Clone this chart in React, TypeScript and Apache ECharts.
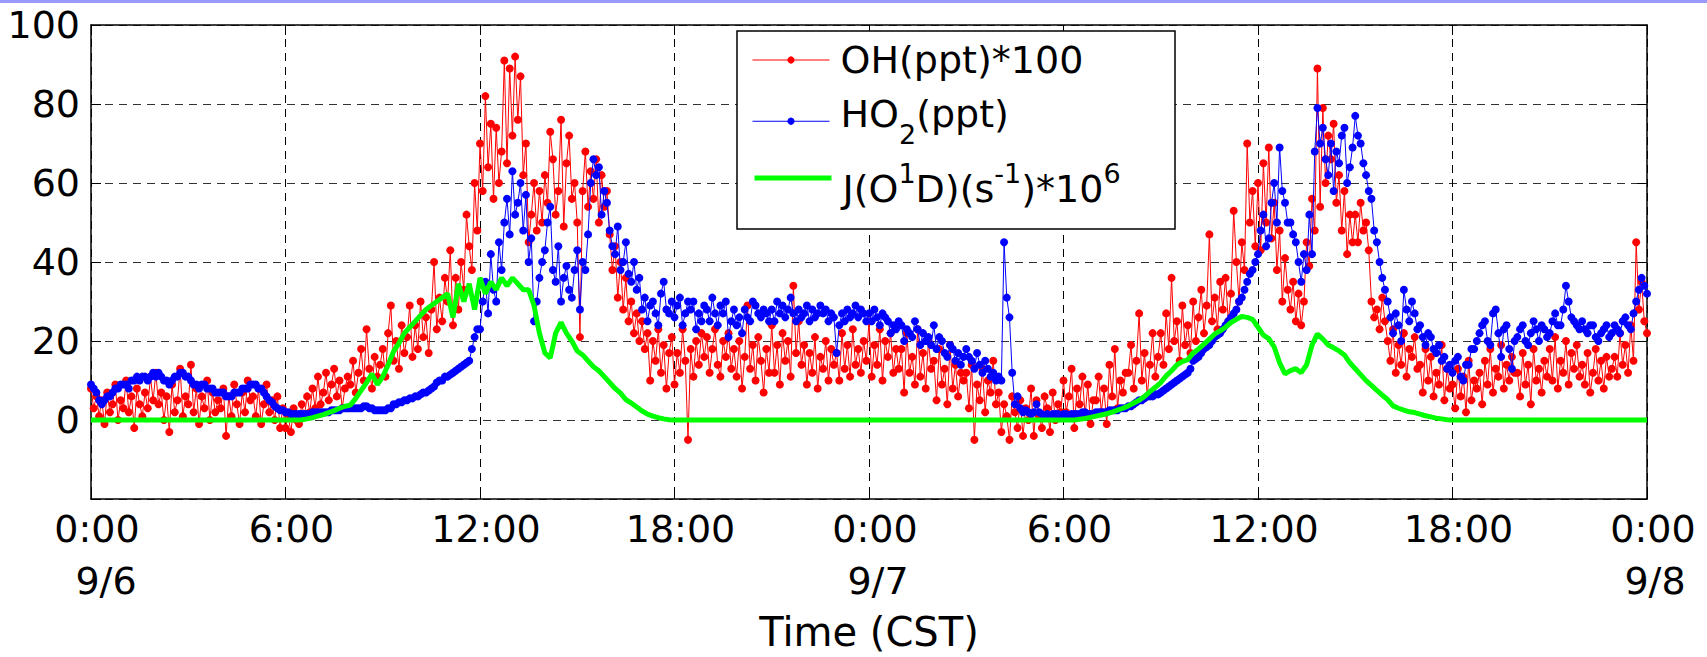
import React, { useEffect, useRef } from 'react';
import * as echarts from 'echarts';

// ---- data: OH and HO2 at 5-minute samples, J(O1D) at 10-minute samples, from 9/6 0:00 CST ----
const STEP_RAD_H = 1 / 12;
const STEP_J_H = 1 / 6;
const X_MIN = 0;
const X_MAX = 48;
const X_INTERVAL = 6;
const Y_MIN = -20;
const Y_MAX = 100;
const Y_INTERVAL = 20;
const DATE_LABELS = ['9/6', '9/7', '9/8'];
const LEGEND_OH = 'OH(ppt)*100';

// OH(ppt)*100, one row per hour
const OH = [
  8, 3, 6, 1, 5, -1, 7, 2, 4, 9, 0, 5,
  3, 10, 2, 6, -2, 8, 4, 1, 7, 3, 11, 5,
  12, 4, 7, 0, 6, -3, 9, 2, 5, 13, 1, 6,
  4, 14, 2, 8, -1, 6, 3, 10, 0, 7, 2, 5,
  3, 8, -4, 6, 1, 9, 4, -1, 7, 2, 10, 5,
  6, 1, 8, -1, 4, 9, 2, 5, 0, 6, -2, 3,
  -2, 1, -3, 3, 0, -1, 4, 1, 6, 2, 8, 3,
  11, 4, 7, 12, 5, 9, 13, 6, 10, 3, 8, 11,
  9, 15, 7, 12, 18, 10, 23, 13, 8, 16, 11, 14,
  18, 11, 22, 29, 15, 20, 13, 24, 17, 21, 29, 16,
  24, 18, 30, 21, 26, 17, 28, 40, 23, 31, 25, 36,
  30, 43, 24, 36, 28, 40, 33, 52, 44, 38, 60, 48,
  70, 58, 82, 64, 75, 56, 74, 60, 68, 91, 65, 89,
  72, 92, 76, 87, 62, 70, 45, 52, 60, 48, 58, 50,
  62, 55, 73, 66, 52, 58, 76, 49, 65, 72, 56, 60,
  50, 21, 58, 68, 54, 63, 56, 66, 50, 62, 54, 58,
  47, 38, 44, 31, 40, 28, 36, 25, 30, 22, 27, 20,
  25, 18, 22, 10, 20, 15, 23, 12, 19, 8, 17, 21,
  9, 17, 12, 23, 15, -5, 18, 11, 20, 14, 22, 16,
  21, 12, 18, 23, 14, 11, 20, 16, 22, 13, 18, 11,
  20, 8, 16, 29, 13, 19, 10, 21, 15, 7, 18, 12,
  24, 12, 19, 9, 22, 15, 20, 11, 34, 17, 25, 14,
  19, 9, 17, 12, 21, 8, 16, 13, 20, 10, 18, 14,
  17, 10, 22, 13, 19, 11, 23, 14, 18, 12, 20, 15,
  25, 11, 19, 14, 23, 10, 20, 16, 22, 12, 18, 13,
  18, 7, 22, 12, 16, 9, 23, 11, 17, 8, 20, 13,
  15, 5, 18, 9, 13, 4, 19, 8, 14, 6, 12, 10,
  12, 3, 14, -5, 9, 5, 13, 2, 10, 7, 15, 4,
  7, -3, 4, 1, -5, 6, 2, -2, 5, -4, 3, 0,
  8, -4, 5, 1, -2, 6, 3, -3, 7, 0, 4, 2,
  10, 2, 6, 13, -2, 8, 4, 11, 1, 9, -1, 5,
  5, 11, 2, 8, -1, 14, 6, 18, 3, 10, 7, 12,
  12, 19, 8, 15, 27, 10, 17, 6, 14, 22, 11, 16,
  22, 14, 27, 18, 36, 20, 25, 15, 29, 19, 24, 17,
  30, 20, 26, 33, 22, 29, 47, 25, 31, 23, 35, 28,
  36, 25, 32, 53, 40, 30, 45, 38, 70, 50, 58, 44,
  60, 43, 65, 50, 69, 46, 55, 38, 48, 30, 41, 33,
  28, 35, 25, 32, 24, 30, 45, 39, 56, 48, 89, 54,
  79, 60, 72, 66, 75, 55, 62, 48, 58, 42, 52, 45,
  52, 45, 55, 48, 50, 43, 30, 26, 28, 23, 31, 25,
  20, 15, 23, 12, 19, 14, 22, 11, 18, 16, 21, 13,
  14, 7, 18, 10, 16, 6, 12, 9, 19, 5, 13, 8,
  9, 3, 13, 6, 11, 2, 15, 5, 10, 8, 12, 4,
  15, 9, 18, 7, 13, 11, 19, 8, 14, 10, 16, 12,
  12, 6, 17, 9, 14, 4, 18, 10, 13, 7, 15, 11,
  18, 10, 21, 8, 15, 12, 20, 9, 17, 13, 19, 11,
  14, 9, 17, 7, 12, 18, 10, 15, 8, 16, 11, 13,
  16, 11, 22, 14, 19, 12, 24, 15, 45, 28, 35, 25,
  22,
];

// HO2(ppt), one row per hour
const HO2 = [
  9, 8, 7, 5, 4, 5, 6, 6, 7, 8, 8, 9,
  9, 9, 8, 10, 10, 11, 10, 11, 11, 10, 11, 12,
  11, 12, 11, 10, 10, 9, 10, 11, 11, 12, 12, 11,
  11, 10, 9, 9, 8, 9, 9, 8, 8, 8, 7, 7,
  7, 7, 6, 6, 6, 7, 7, 7, 8, 8, 8, 9,
  9, 9, 8, 8, 7, 6, 5, 4.5, 3.5, 3, 2.5, 2.5,
  2, 2, 1.5, 1.5, 1.5, 1.5, 1.5, 1.5, 1.5, 1.5, 2, 2,
  2, 2, 2, 2, 2, 2.5, 2.5, 2.5, 2.5, 3, 3, 3,
  3, 3, 3, 3, 3, 3.5, 3.5, 3, 3, 2.5, 2.5, 2.5,
  2.5, 2.5, 3, 3, 4, 4, 4.5, 4.5, 5, 5, 5.5, 5.5,
  6, 6, 6.5, 7, 7, 7.5, 8, 8.5, 9.5, 10, 10, 11,
  11, 11.5, 12, 12.5, 13, 13.5, 14, 14.5, 15, 18, 21, 23,
  23, 30, 35, 27, 42, 33, 30, 45, 38, 50, 56, 47,
  63, 52, 55, 60, 48, 57, 40, 46, 25, 30, 36, 40,
  43, 50, 54, 38, 35, 44, 30, 36, 39, 33, 31, 38,
  43, 28, 40, 38, 47, 60, 66, 62, 64, 52, 58, 55,
  48, 44, 42, 49, 38, 40, 45, 37, 35, 40, 33, 36,
  28, 31, 25, 29, 30, 27, 24, 32, 35, 28, 27, 30,
  26, 29, 31, 24, 27, 30, 28, 30, 23, 27, 25, 29,
  28, 25, 31, 27, 24, 29, 27, 30, 21, 25, 28, 24,
  26, 22, 28, 26, 25, 30, 29, 27, 26, 28, 27, 25,
  28, 25, 30, 27, 29, 26, 28, 31, 27, 25, 28, 26,
  27, 29, 25, 28, 26, 27, 29, 27, 28, 25, 27, 26,
  17, 24, 27, 25, 28, 26, 27, 29, 26, 28, 27, 25,
  27, 25, 28, 26, 24, 27, 26, 25, 22, 24, 23, 25,
  24, 20, 23, 22, 21, 25, 23, 19, 22, 20, 21, 19,
  24, 18, 21, 20, 17, 16, 19, 18, 15, 17, 14, 16,
  18, 16, 15, 13, 17, 14, 12, 15, 13, 11, 12, 10,
  11, 10, 45, 31, 26, 12, 4, 6, 3, 2, 2.5, 2,
  1.5, 2, 4, 2, 1.5, 1, 1.5, 1, 1.5, 1.5, 1.5, 1,
  1.5, 1.5, 1, 1.5, 1.5, 1.5, 1.5, 2, 2, 1.5, 1.5, 1.5,
  2, 2, 2, 2, 2, 2.5, 2.5, 2.5, 2.5, 3, 3, 3,
  3.5, 3.5, 4, 4.5, 5, 5, 5.5, 6, 6, 6, 6.5, 6.5,
  7, 7.5, 8, 8.5, 9, 9.5, 10, 10.5, 11, 11.5, 12, 13,
  15, 15.5, 16, 17, 18, 18.5, 19, 20, 21, 21.5, 22, 23,
  24, 25, 26, 27, 28, 30, 31, 33, 35, 37, 38, 40,
  42, 48, 52, 44, 46, 55, 60, 50, 69, 58, 55, 50,
  50, 47, 45, 40, 35, 42, 38, 52, 42, 68, 79, 70,
  74, 66, 62, 70, 58, 68, 65, 72, 74, 60, 64, 69,
  77, 72, 70, 65, 62, 58, 56, 48, 45, 40, 36, 33,
  30, 26, 22, 27, 24, 20, 33, 28, 25, 30, 27, 23,
  24, 21, 19, 22, 21, 18, 17, 19, 15, 16, 13, 14,
  12, 15, 16, 11, 10, 14, 14, 18, 18, 20, 22, 24,
  25, 20, 19, 27, 28, 22, 16, 23, 24, 18, 13, 20,
  21, 23, 24, 20, 19, 22, 25, 23, 20, 24, 23, 21,
  22, 25, 27, 24, 24, 28, 34, 30, 26, 25, 24, 23,
  25, 23, 22, 24, 24, 21, 20, 22, 23, 24, 21, 22,
  24, 23, 22, 25, 26, 24, 23, 27, 30, 33, 36, 34,
  32,
];

// J(O1D)(s-1)*10^6, one row per hour
const JO1D = [
  0, 0, 0, 0, 0, 0,
  0, 0, 0, 0, 0, 0,
  0, 0, 0, 0, 0, 0,
  0, 0, 0, 0, 0, 0,
  0, 0, 0, 0, 0, 0,
  0, 0, 0, 0, 0, 0,
  0, 0, 0, 0.1, 0.3, 0.6,
  1.0, 1.4, 1.9, 2.4, 3.0, 3.5,
  3.8, 5.5, 7.5, 9.5, 11.7, 9.0,
  11, 14, 17.4, 19.5, 22, 23.5,
  25, 26.5, 28, 29, 30, 31,
  32, 26, 34.5, 30, 34.5, 28,
  36, 32, 35, 33, 36, 34,
  36, 34.5, 33, 33, 29, 22,
  17, 15.7, 22, 24.7, 22, 20,
  17.5, 16.5, 15, 13.5, 12.5, 11,
  9.5, 8, 6.8, 5.2, 4.3, 3.3,
  2.3, 1.5, 1, 0.6, 0.3, 0.1,
  0, 0, 0, 0, 0, 0,
  0, 0, 0, 0, 0, 0,
  0, 0, 0, 0, 0, 0,
  0, 0, 0, 0, 0, 0,
  0, 0, 0, 0, 0, 0,
  0, 0, 0, 0, 0, 0,
  0, 0, 0, 0, 0, 0,
  0, 0, 0, 0, 0, 0,
  0, 0, 0, 0, 0, 0,
  0, 0, 0, 0, 0, 0,
  0, 0, 0, 0, 0, 0,
  0, 0, 0, 0, 0, 0,
  0, 0, 0, 0.2, 0.4, 0.7,
  1.0, 1.3, 1.6, 2.0, 2.5, 3.0,
  3.6, 4.3, 5.0, 6.0, 7.2, 8.3,
  9.5, 11.2, 12.5, 14, 14.8, 15.3,
  17, 18, 19.2, 20.5, 21.8, 22.6,
  23.5, 24.7, 25.5, 26.2, 26, 25.5,
  23.5, 21.5, 20.6, 18.5, 14.5, 11.7,
  12.5, 13, 12, 14, 19, 21.8,
  20.5, 19, 18.3, 17.5, 16.5, 14.5,
  13, 11.5, 10, 8.8, 7.5, 6.3,
  5.2, 3.6, 3, 2.5, 2.1, 1.9,
  1.5, 1.1, 0.8, 0.5, 0.3, 0.1,
  0, 0, 0, 0, 0, 0,
  0, 0, 0, 0, 0, 0,
  0, 0, 0, 0, 0, 0,
  0, 0, 0, 0, 0, 0,
  0, 0, 0, 0, 0, 0,
  0, 0, 0, 0, 0, 0,
  0,
];

const FONT = 'DejaVu Sans';
const toPairs = (vals: number[], step: number) => vals.map((v, i) => [i * step, v]);

const RICH = {
  m: { fontFamily: FONT, fontSize: 38, color: '#000', verticalAlign: 'top' },
  m0: { fontFamily: FONT, fontSize: 38, color: '#000', verticalAlign: 'top', padding: [0, 0, 0, 6] },
  sub: { fontFamily: FONT, fontSize: 27, color: '#000', verticalAlign: 'top', padding: [25.5, 0, 0, 0] },
  mb: { fontFamily: FONT, fontSize: 38, color: '#000', verticalAlign: 'top', padding: [21, 0, 0, 0] },
  mb0: { fontFamily: FONT, fontSize: 38, color: '#000', verticalAlign: 'top', padding: [21, 0, 0, 6] },
  sup: { fontFamily: FONT, fontSize: 27, color: '#000', verticalAlign: 'top', padding: [11.5, 0, 0, 0] },
};

const tickText = { fontFamily: FONT, fontSize: 38, color: '#000', lineHeight: 52 };
const X_RICH = {
  t: { ...tickText },
  d0: { ...tickText, padding: [0, 0, 0, 18] },
  d1: { ...tickText, padding: [0, 0, 0, 6] },
  d2: { ...tickText, padding: [0, 0, 0, 4] },
};

export default function App() {
  const ref = useRef<HTMLDivElement>(null);
  useEffect(() => {
    document.body.style.margin = '0';
    const chart = echarts.init(ref.current as HTMLDivElement, null, { renderer: 'svg' });
    const axisLine = { show: true, onZero: false, lineStyle: { color: '#000', width: 1.5 } };
    const tick = { show: true, inside: true, length: 10, lineStyle: { color: '#000', width: 1 } };
    const legendBase = {
      orient: 'vertical',
      left: 752,
      itemWidth: 77,
      itemHeight: 9,
      padding: 0,
      selectedMode: false,
      z: 11,
      textStyle: { color: '#000', rich: RICH },
    };
    chart.setOption({
      animation: false,
      textStyle: { fontFamily: FONT },
      grid: { left: 91, top: 25, width: 1556, height: 492 },
      xAxis: [
        {
          type: 'value',
          min: X_MIN,
          max: X_MAX,
          interval: X_INTERVAL,
          position: 'bottom',
          axisLine,
          axisTick: tick,
          axisLabel: {
            fontFamily: FONT,
            fontSize: 38,
            color: '#000',
            lineHeight: 52,
            margin: 4,
            padding: [0, 0, 0, 12],
            showMinLabel: true,
            showMaxLabel: true,
            rich: X_RICH,
            formatter: (v: number) => {
              const hr = Math.round(v);
              const h = hr % 24;
              const s = `{t|${h}:00}`;
              if (h !== 0) return s;
              const d = hr / 24;
              return `${s}\n{d${d}|${DATE_LABELS[d]}}`;
            },
          },
          splitLine: { show: true, lineStyle: { color: '#000', type: [8, 6], width: 1 } },
          name: 'Time (CST)',
          nameLocation: 'middle',
          nameGap: 96,
          nameTextStyle: { fontFamily: FONT, fontSize: 40, color: '#000' },
        },
        {
          type: 'value',
          min: X_MIN,
          max: X_MAX,
          interval: X_INTERVAL,
          position: 'top',
          axisLine,
          axisTick: tick,
          axisLabel: { show: false },
          splitLine: { show: false },
        },
      ],
      yAxis: [
        {
          type: 'value',
          min: Y_MIN,
          max: Y_MAX,
          interval: Y_INTERVAL,
          position: 'left',
          axisLine,
          axisTick: tick,
          axisLabel: {
            fontFamily: FONT,
            fontSize: 38,
            color: '#000',
            margin: 11,
            formatter: (v: number) => (v === Y_MIN ? '' : String(v)),
          },
          splitLine: { show: true, lineStyle: { color: '#333', type: [8, 6], width: 1 } },
        },
        {
          type: 'value',
          min: Y_MIN,
          max: Y_MAX,
          interval: Y_INTERVAL,
          position: 'right',
          axisLine,
          axisTick: tick,
          axisLabel: { show: false },
          splitLine: { show: false },
        },
      ],
      legend: [
        {
          ...legendBase,
          top: 41,
          data: ['OH'],
          formatter: () => `{m0|${LEGEND_OH}}`,
          lineStyle: { width: 1 },
        },
        {
          ...legendBase,
          top: 95,
          data: ['HO2'],
          formatter: () => '{m0|HO}{sub|2}{m|(ppt)}',
          lineStyle: { width: 1 },
        },
        {
          ...legendBase,
          top: 160,
          data: ['J'],
          formatter: () => '{mb0|J(O}{sup|1}{mb|D)(s}{sup|-1}{mb|)*10}{sup|6}',
          lineStyle: { width: 5 },
          itemStyle: { opacity: 0 },
        },
      ],
      graphic: [
        {
          type: 'rect',
          shape: { x: 0, y: 0, width: 1707, height: 3 },
          style: { fill: '#9999ff' },
          z: 20,
        },
        {
          type: 'rect',
          shape: { x: 737, y: 31, width: 438, height: 198 },
          style: { fill: '#fff', stroke: '#000', lineWidth: 1.5 },
          z: 10,
        },
      ],
      series: [
        {
          name: 'OH',
          type: 'line',
          data: toPairs(OH, STEP_RAD_H),
          symbol: 'circle',
          symbolSize: 8,
          showSymbol: true,
          itemStyle: { color: '#ff0000', borderWidth: 0 },
          lineStyle: { color: '#ff0000', width: 1 },
          z: 2,
        },
        {
          name: 'HO2',
          type: 'line',
          data: toPairs(HO2, STEP_RAD_H),
          symbol: 'circle',
          symbolSize: 8,
          showSymbol: true,
          itemStyle: { color: '#0000ff', borderWidth: 0 },
          lineStyle: { color: '#0000ff', width: 1 },
          z: 3,
        },
        {
          name: 'J',
          type: 'line',
          data: toPairs(JO1D, STEP_J_H),
          symbol: 'none',
          itemStyle: { color: '#00ff00' },
          lineStyle: { color: '#00ff00', width: 5 },
          z: 4,
        },
      ],
    });
    return () => chart.dispose();
  }, []);
  return <div ref={ref} style={{ width: 1707, height: 657 }} />;
}
